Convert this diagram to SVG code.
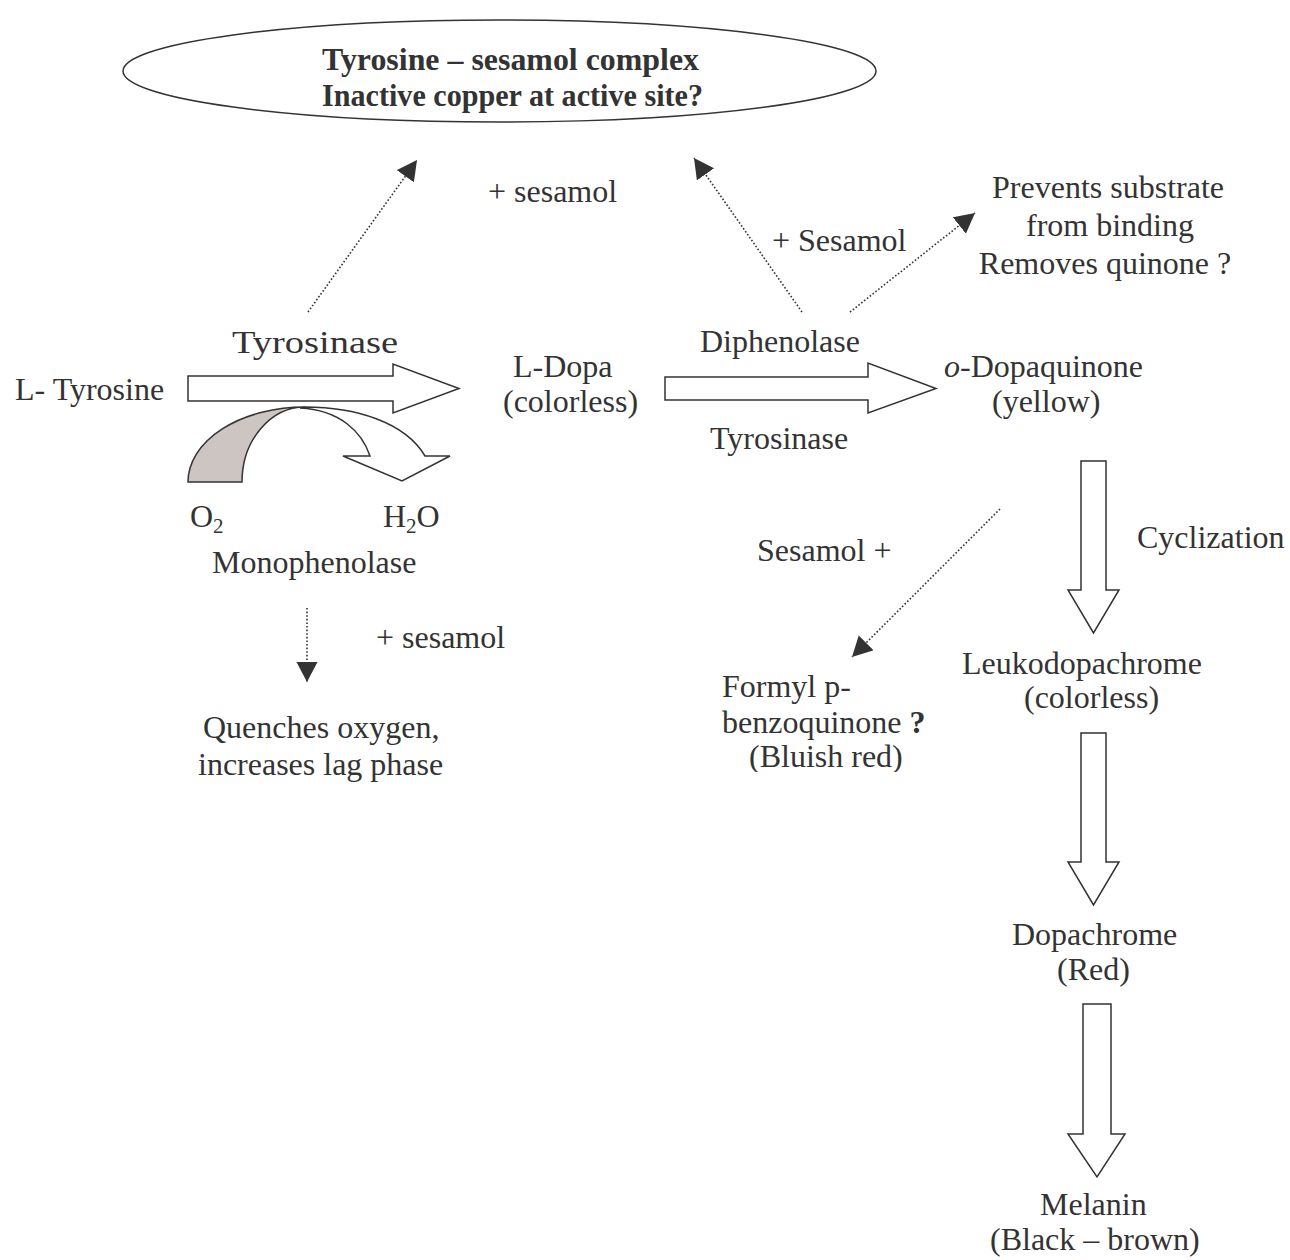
<svg xmlns="http://www.w3.org/2000/svg" width="1290" height="1260" viewBox="0 0 1290 1260">
  <defs>
    <style>
      text { font-family: "Liberation Serif", "Times New Roman", serif; font-size: 32px; fill: #333; }
      .bold { font-weight: bold; }
      .blk { fill: #fff; stroke: #333; stroke-width: 1.5; stroke-linejoin: miter; }
      .dot { fill: none; stroke: #333; stroke-width: 1.6; stroke-dasharray: 1.6 2; }
      .sub { font-size: 21px; }
    </style>
    <marker id="head" markerUnits="userSpaceOnUse" markerWidth="22" markerHeight="22" refX="20" refY="10.5" orient="auto">
      <path d="M0,0 L20,10.5 L0,21 Z" fill="#333"/>
    </marker>
    <clipPath id="clipFormyl">
      <rect x="700" y="660" width="280" height="112"/>
    </clipPath>
  </defs>

  <rect width="1290" height="1260" fill="#fff"/>

  <!-- connectors: block arrows and dotted arrows -->
  <g id="connectors">
    <!-- L-Tyrosine to L-Dopa -->
    <path class="blk" d="M188,376 L393,376 L393,364 L459,388.5 L393,413 L393,401 L188,401 Z"/>
    <!-- O2 to H2O curved arrow -->
    <path class="blk" d="M305,407 C355,407 405,422 425,456 L450,456 L402,481 L343,456 L370,456 C362,432 340,410 300,408 Z"/>
    <path d="M188,482 A117,75 0 0 1 305,407 A63,75 0 0 0 242,482 Z" fill="#ccc5c2" stroke="#333" stroke-width="1.5"/>
    <!-- L-Dopa to o-Dopaquinone -->
    <path class="blk" d="M665,377 L868,377 L868,363 L936,388.5 L868,413 L868,400 L665,400 Z"/>
    <!-- vertical pathway arrows -->
    <path class="blk" d="M1081,461 L1106,461 L1106,590 L1119,590 L1093.5,633 L1068,590 L1081,590 Z"/>
    <path class="blk" d="M1081,733 L1106,733 L1106,862 L1119,862 L1093.5,905 L1068,862 L1081,862 Z"/>
    <path class="blk" d="M1083,1004 L1111,1004 L1111,1134 L1125,1134 L1097,1177 L1068,1134 L1083,1134 Z"/>
    <!-- dotted sesamol effects -->
    <line class="dot" x1="308" y1="312" x2="417" y2="160" marker-end="url(#head)"/>
    <line class="dot" x1="802" y1="312" x2="694" y2="158" marker-end="url(#head)"/>
    <line class="dot" x1="850" y1="312" x2="975" y2="213" marker-end="url(#head)"/>
    <line class="dot" x1="1000" y1="509" x2="852" y2="657" marker-end="url(#head)"/>
    <line class="dot" x1="307" y1="608" x2="307" y2="682" marker-end="url(#head)"/>
  </g>

  <g id="complex">
    <ellipse cx="499.5" cy="71" rx="376.5" ry="51" fill="#fff" stroke="#333" stroke-width="1.5"/>
    <text class="bold" x="322" y="70" textLength="377" lengthAdjust="spacingAndGlyphs">Tyrosine – sesamol complex</text>
    <text class="bold" x="322" y="106" textLength="381" lengthAdjust="spacingAndGlyphs">Inactive copper at active site?</text>
  </g>

  <g id="label-sesamol-1"><text x="488" y="202">+ sesamol</text></g>
  <g id="label-sesamol-2"><text x="772" y="251">+ Sesamol</text></g>

  <g id="prevents">
    <text x="1108" y="198" text-anchor="middle">Prevents substrate</text>
    <text x="1110" y="236" text-anchor="middle">from binding</text>
    <text x="1105" y="274" text-anchor="middle">Removes quinone ?</text>
  </g>

  <g id="label-tyrosinase-1"><text x="232" y="353" textLength="166" lengthAdjust="spacingAndGlyphs">Tyrosinase</text></g>
  <g id="l-tyrosine"><text x="15" y="400">L- Tyrosine</text></g>

  <g id="l-dopa">
    <text x="513" y="377">L-Dopa</text>
    <text x="503" y="412">(colorless)</text>
  </g>

  <g id="label-diphenolase"><text x="700" y="352">Diphenolase</text></g>
  <g id="label-tyrosinase-2"><text x="710" y="449">Tyrosinase</text></g>

  <g id="dopaquinone">
    <text x="944" y="377"><tspan font-style="italic">o</tspan>-Dopaquinone</text>
    <text x="992" y="412">(yellow)</text>
  </g>

  <g id="o2"><text x="190" y="527">O<tspan class="sub" dy="6">2</tspan></text></g>
  <g id="h2o"><text x="383" y="527">H<tspan class="sub" dy="6">2</tspan><tspan dy="-6">O</tspan></text></g>
  <g id="label-monophenolase"><text x="212" y="573">Monophenolase</text></g>
  <g id="label-sesamol-3"><text x="376" y="648">+ sesamol</text></g>

  <g id="quenches">
    <text x="203" y="738">Quenches oxygen,</text>
    <text x="198" y="775">increases lag phase</text>
  </g>

  <g id="label-sesamol-4"><text x="757" y="561">Sesamol +</text></g>
  <g id="label-cyclization"><text x="1137" y="548">Cyclization</text></g>

  <g id="formyl" clip-path="url(#clipFormyl)">
    <text x="722" y="697">Formyl p-</text>
    <text x="722" y="733">benzoquinone <tspan class="bold">?</tspan></text>
    <text x="749" y="767">(Bluish red)</text>
  </g>

  <g id="leukodopachrome">
    <text x="962" y="674">Leukodopachrome</text>
    <text x="1024" y="708">(colorless)</text>
  </g>

  <g id="dopachrome">
    <text x="1012" y="945">Dopachrome</text>
    <text x="1057" y="980">(Red)</text>
  </g>

  <g id="melanin">
    <text x="1040" y="1215">Melanin</text>
    <text x="990" y="1250">(Black – brown)</text>
  </g>
</svg>
